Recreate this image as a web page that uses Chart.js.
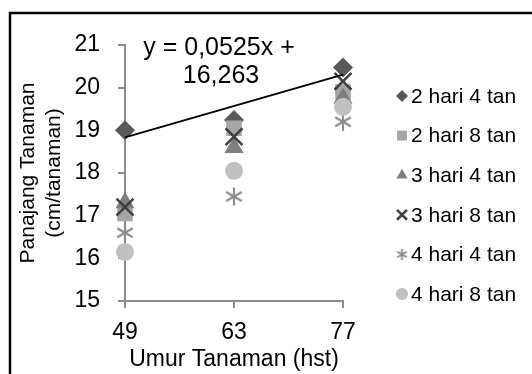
<!DOCTYPE html>
<html>
<head>
<meta charset="utf-8">
<script src="https://cdn.jsdelivr.net/npm/chart.js@4/dist/chart.umd.min.js"></script>
<style>
  html, body { margin: 0; padding: 0; background: #fff; }
</style>
</head>
<body>
<canvas id="growthChart" width="532" height="374"></canvas>
<script>
// data
const days = [49, 63, 77];
const seriesNames = ["2 hari 4 tan", "2 hari 8 tan", "3 hari 4 tan", "3 hari 8 tan", "4 hari 4 tan", "4 hari 8 tan"];
const h2t4 = [19.0, 19.24, 20.47];
const h2t8 = [17.05, 19.05, 19.9];
const h3t4 = [17.3, 18.6, 19.75];
const h3t8 = [17.2, 18.85, 20.15];
const h4t4 = [16.6, 17.45, 19.2];
const h4t8 = [16.15, 18.05, 19.55];
const yRange = [15, 21];
// trendline of "2 hari 4 tan" as printed on the chart
const trendSlope = 0.0525;
const trendIntercept = 16.263;
const trendLabel = ["y = 0,0525x +", "16,263"];

const FONT = "'Liberation Sans', Arial, sans-serif";

// six-spoke asterisk marker
function asterisk(size, color, lw) {
    let c = document.createElement("canvas");
    c.width = size; c.height = size;
    let g = c.getContext("2d");
    g.strokeStyle = color;
    g.lineWidth = lw;
    let r = size / 2 - 1, m = size / 2;
    for (let a = 0; a < 3; a++) {
        let t = Math.PI / 2 + a * Math.PI / 3;
        g.beginPath();
        g.moveTo(m + Math.cos(t) * r, m + Math.sin(t) * r);
        g.lineTo(m - Math.cos(t) * r, m - Math.sin(t) * r);
        g.stroke();
    }
    return c;
}

let styles = [
    { pointStyle: "rectRot", color: "#595959", radius: 10, legendRadius: 6 },
    { pointStyle: "rect", color: "#a5a5a5", radius: 11, legendRadius: 7 },
    { pointStyle: "triangle", color: "#7f7f7f", radius: 11, legendRadius: 6.5 },
    { pointStyle: "crossRot", color: "#404040", radius: 12, legendRadius: 7, lineWidth: 2.5 },
    { pointStyle: asterisk(20, "#8c8c8c", 2.2), color: "#8c8c8c", radius: 10, legendImg: asterisk(13, "#8c8c8c", 2) },
    { pointStyle: "circle", color: "#c0c0c0", radius: 9, legendRadius: 6 },
];

let allSeries = [h2t4, h2t8, h3t4, h3t8, h4t4, h4t8];

let datasets = allSeries.map((vals, i) => ({
    label: seriesNames[i],
    data: days.map((d, j) => ({ x: d, y: vals[j] })),
    pointStyle: styles[i].pointStyle,
    pointRadius: styles[i].radius,
    pointHoverRadius: styles[i].radius,
    backgroundColor: styles[i].color,
    borderColor: styles[i].color,
    pointBorderWidth: styles[i].lineWidth || 0,
    showLine: false,
    clip: false,
    order: 10 - i,
}));

datasets.push({
    label: "trend",
    data: [days[0], days[days.length - 1]].map(d => ({ x: d, y: trendSlope * d + trendIntercept })),
    showLine: true,
    borderColor: "#000",
    borderWidth: 2,
    pointRadius: 0,
    clip: false,
    order: 0,
});

// outer frame, equation text and legend
let decorations = {
    id: "decorations",
    beforeDraw(chart) {
        let ctx = chart.ctx;
        ctx.save();
        ctx.strokeStyle = "#000";
        ctx.lineWidth = 2.5;
        ctx.strokeRect(10, 13, 700, 600);
        ctx.restore();
    },
    afterDraw(chart) {
        let ctx = chart.ctx;
        let area = chart.chartArea;
        ctx.save();
        ctx.fillStyle = "#000";
        ctx.font = "25px " + FONT;
        ctx.textAlign = "center";
        ctx.textBaseline = "middle";
        ctx.fillText(trendLabel[0], area.left + 94, 48);
        ctx.fillText(trendLabel[1], area.left + 96, 76);

        ctx.font = "21px " + FONT;
        ctx.textAlign = "left";
        for (let i = 0; i < seriesNames.length; i++) {
            let y = 96 + i * 39.6;
            let s = styles[i];
            ctx.fillStyle = s.color;
            ctx.strokeStyle = s.color;
            if (s.legendImg) {
                ctx.drawImage(s.legendImg, 402 - 6.5, y - 6.5);
            } else {
                ctx.lineWidth = s.lineWidth || 0;
                Chart.helpers.drawPoint(ctx, {
                    pointStyle: s.pointStyle,
                    radius: s.legendRadius,
                    rotation: 0,
                    borderWidth: s.lineWidth || 0,
                }, 402, y);
            }
            ctx.fillStyle = "#000";
            ctx.fillText(seriesNames[i], 411, y + 1);
        }
        ctx.restore();
    },
};

let axisGray = "#8c8c8c";

new Chart(document.getElementById("growthChart").getContext("2d"), {
    type: "scatter",
    data: { datasets: datasets },
    options: {
        responsive: false,
        animation: false,
        layout: { padding: { top: 45, right: 189, bottom: 0, left: 0 } },
        plugins: {
            legend: { display: false },
            tooltip: { enabled: false },
        },
        scales: {
            x: {
                type: "linear",
                min: days[0],
                max: days[days.length - 1],
                afterBuildTicks: (scale) => { scale.ticks = days.map(v => ({ value: v })); },
                afterFit: (scale) => { scale.height = 73; },
                ticks: { color: "#000", font: { family: FONT, size: 23 }, padding: 11 },
                grid: { drawOnChartArea: false, drawTicks: true, tickLength: 7, color: axisGray, lineWidth: 2 },
                border: { color: axisGray, width: 2 },
                title: {
                    display: true,
                    text: "Umur Tanaman (hst)",
                    color: "#000",
                    font: { family: FONT, size: 23 },
                    padding: { top: 0, bottom: 1 },
                },
            },
            y: {
                min: yRange[0],
                max: yRange[1],
                afterFit: (scale) => { scale.width = 125; },
                ticks: { stepSize: 1, color: "#000", font: { family: FONT, size: 23 }, padding: 18 },
                grid: { drawOnChartArea: false, drawTicks: true, tickLength: 7, color: axisGray, lineWidth: 2 },
                border: { color: axisGray, width: 2 },
                title: {
                    display: true,
                    text: ["Panajang Tanaman", "(cm/tanaman)"],
                    color: "#000",
                    font: { family: FONT, size: 21, lineHeight: 1.25 },
                    padding: { top: 15, bottom: 0 },
                },
            },
        },
    },
    plugins: [decorations],
});
</script>
</body>
</html>
